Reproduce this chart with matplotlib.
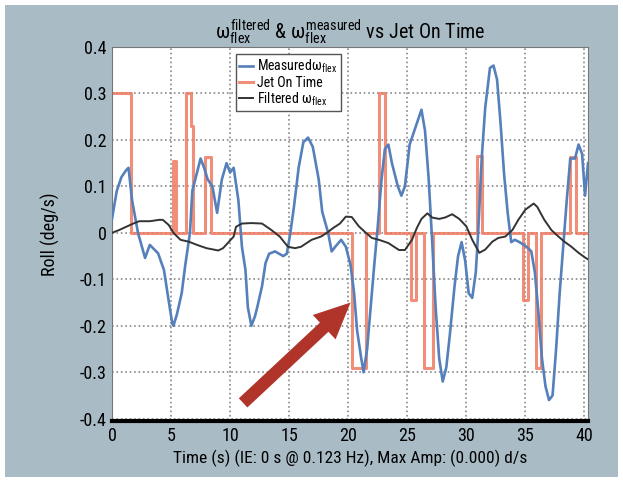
import numpy as np
import matplotlib
matplotlib.use("Agg")
import matplotlib.pyplot as plt
import matplotlib.patches as mpatches
from matplotlib import font_manager

names = {f.name for f in font_manager.fontManager.ttflist}
narrow = [n for n in ['Liberation Sans Narrow', 'Roboto Condensed', 'Open Sans Condensed'] if n in names]
main_font = (narrow + ['DejaVu Sans'])[0]
plt.rcParams['font.family'] = narrow + ['DejaVu Sans']
plt.rcParams['font.stretch'] = 'condensed'
plt.rcParams['mathtext.fontset'] = 'custom'
plt.rcParams['mathtext.rm'] = main_font
plt.rcParams['mathtext.it'] = main_font

# Measured omega_flex (blue)
t_meas = [0.0, 0.4, 0.8, 1.2, 1.4, 1.7, 2.2, 2.8, 3.2, 3.9, 4.4, 4.7, 5.1, 5.2, 5.5,
          5.9, 6.2, 6.6, 6.8, 7.1, 7.5, 7.8, 8.1, 8.5, 8.9, 9.3, 9.7, 10.0, 10.3,
          10.7, 11.0, 11.3, 11.5, 11.8, 12.1, 12.3, 12.7, 13.0, 13.3, 13.8, 14.5,
          14.8, 15.1, 15.4, 15.8, 16.2, 16.6, 17.0, 17.5, 17.8, 18.3, 18.6, 18.9,
          19.4, 19.8, 20.2, 20.5, 20.75, 21.1, 21.3, 21.6, 21.9, 22.2, 22.5, 22.8,
          23.1, 23.4, 23.7, 24.2, 24.5, 24.8, 25.2, 25.6, 26.2, 26.5, 26.8, 27.1,
          27.4, 27.7, 28.0, 28.3, 28.6, 29.0, 29.3, 29.6, 29.9, 30.2, 30.5, 30.8,
          31.0, 31.3, 31.6, 32.0, 32.3, 32.6, 32.9, 33.2, 33.5, 33.8, 34.1, 34.5,
          35.1, 35.5, 35.8, 36.1, 36.4, 36.7, 37.0, 37.3, 37.6, 37.9, 38.2, 38.5,
          38.8, 39.2, 39.5, 39.8, 40.05, 40.3]
v_meas = [0.03, 0.09, 0.12, 0.135, 0.14, 0.07, 0.0, -0.054, -0.026, -0.044, -0.08,
          -0.13, -0.195, -0.2, -0.175, -0.13, -0.07, 0.0, 0.09, 0.12, 0.16, 0.14,
          0.115, 0.1, 0.043, 0.115, 0.15, 0.13, 0.14, 0.07, -0.03, -0.08, -0.16,
          -0.2, -0.18, -0.16, -0.115, -0.065, -0.045, -0.04, -0.05, -0.045, 0.0,
          0.055, 0.14, 0.195, 0.205, 0.185, 0.115, 0.045, 0.0, -0.04, -0.03,
          -0.015, -0.03, -0.07, -0.13, -0.21, -0.27, -0.3, -0.25, -0.16, -0.07,
          0.014, 0.11, 0.18, 0.19, 0.15, 0.1, 0.08, 0.1, 0.19, 0.22, 0.265, 0.22,
          0.12, -0.015, -0.16, -0.27, -0.32, -0.29, -0.22, -0.115, -0.05, -0.02,
          -0.06, -0.13, -0.14, -0.085, 0.0, 0.16, 0.27, 0.355, 0.36, 0.33, 0.235,
          0.125, 0.043, -0.02, -0.015, -0.02, -0.03, -0.04, -0.085, -0.17, -0.27,
          -0.33, -0.36, -0.35, -0.25, -0.13, -0.03, 0.07, 0.16, 0.16, 0.19, 0.17,
          0.08, 0.15]

# Filtered omega_flex (dark)
t_filt = [0.0, 0.6, 1.2, 1.8, 2.3, 3.2, 4.0, 4.3, 4.8, 5.2, 5.8, 6.5, 7.2, 8.0,
          9.0, 9.4, 9.8, 10.3, 10.5, 11.0, 11.8, 12.7, 13.5, 14.2, 14.9, 15.5,
          16.0, 16.9, 17.7, 18.3, 18.7, 19.3, 19.8, 20.3, 20.9, 21.5, 22.0, 22.6,
          23.4, 24.3, 24.8, 25.4, 25.8, 26.2, 26.7, 27.1, 27.7, 28.2, 28.8, 29.4,
          30.0, 30.5, 31.1, 31.6, 32.2, 32.7, 33.3, 33.9, 34.4, 35.0, 35.7, 36.0,
          36.6, 37.2, 37.8, 38.3, 38.9, 39.5, 40.1, 40.3]
v_filt = [0.0, 0.006, 0.013, 0.02, 0.025, 0.025, 0.028, 0.028, 0.017, 0.0, -0.015,
          -0.019, -0.026, -0.033, -0.038, -0.033, -0.022, -0.008, 0.013, 0.02,
          0.021, 0.02, 0.006, -0.008, -0.03, -0.033, -0.03, -0.015, -0.008, 0.002,
          0.01, 0.02, 0.035, 0.034, 0.014, 0.0, -0.011, -0.015, -0.022, -0.037,
          -0.037, -0.015, 0.01, 0.03, 0.042, 0.033, 0.03, 0.033, 0.04, 0.03, 0.014,
          -0.015, -0.043, -0.036, -0.019, -0.011, -0.008, 0.006, 0.028, 0.05,
          0.063, 0.056, 0.028, 0.006, -0.008, -0.019, -0.03, -0.043, -0.054, -0.057]

# Jet On Time pulses: (start, end, level)
jet_start = [0.0, 5.15, 6.3, 6.7, 7.9, 20.3, 22.6, 25.3, 26.4, 30.9, 34.8, 35.9, 38.8]
jet_end = [1.65, 5.45, 6.7, 6.9, 8.35, 21.5, 23.1, 25.7, 27.2, 31.3, 35.2, 36.3, 39.3]
jet_level = [0.3, 0.155, 0.3, 0.23, 0.163, -0.29, 0.3, -0.145, -0.29, 0.165, -0.145, -0.29, 0.163]

# piecewise-constant signal, drawn with steps-post
jt, jv = [], []
for i, (s, e, lv) in enumerate(zip(jet_start, jet_end, jet_level)):
    if not jt or jt[-1] != s:
        jt.append(s)
        jv.append(lv)
    else:
        jv[-1] = lv
    nxt = jet_start[i + 1] if i + 1 < len(jet_start) else None
    jt.append(e)
    jv.append(lv if nxt == e else 0.0)
jt.append(40.3)
jv.append(0.0)

fig = plt.figure(figsize=(6.23, 4.82), dpi=100, facecolor='white')
bg = mpatches.Rectangle((5 / 623, 5 / 482), 613 / 623, 472 / 482,
                        transform=fig.transFigure, facecolor='#a9bcc6',
                        edgecolor='none', zorder=-10)
fig.patches.append(bg)

ax = fig.add_axes([112 / 623, 1 - 421 / 482, 476 / 623, 374 / 482])
ax.set_facecolor('white')

ax.plot(t_meas, v_meas, color='#5580bb', lw=1.9, label=r'Measured$\omega_{\rm flex}$', zorder=3)
ax.plot(jt, jv, color='#ef7a62', lw=2.2, alpha=0.85, drawstyle='steps-post',
        label='Jet On Time', zorder=2)
ax.plot(t_filt, v_filt, color='#333333', lw=1.4, label=r'Filtered $\omega_{\rm flex}$', zorder=4)

ax.set_xlim(0, 40.3)
ax.set_ylim(-0.405, 0.4)
ax.set_xticks(np.arange(0, 41, 5))
ax.set_yticks(np.arange(-0.4, 0.41, 0.1))
ax.set_yticklabels(['-0.4', '-0.3', '-0.2', '-0.1', '0', '0.1', '0.2', '0.3', '0.4'])
ax.grid(True, color='#888888', ls=':', lw=1.2)
ax.tick_params(labelsize=13, length=0, pad=4)
for sp in ['top', 'right', 'left']:
    ax.spines[sp].set_color('#777777')
ax.spines['bottom'].set_linewidth(3)
ax.spines['bottom'].set_color('black')

ax.set_xlabel('Time (s) (IE: 0 s @ 0.123 Hz), Max Amp: (0.000) d/s', fontsize=12.5, labelpad=4)
ax.set_ylabel('Roll (deg/s)', fontsize=13, labelpad=14)
ax.set_title(r'$\omega^{\rm filtered}_{\rm flex}$ & $\omega^{\rm measured}_{\rm flex}$ vs Jet On Time',
             fontsize=14.5, pad=6)

leg = ax.legend(loc='upper left', bbox_to_anchor=(0.245, 1.0), fontsize=10,
                handlelength=1.0, handletextpad=0.3, labelspacing=0.05,
                borderpad=0.25, fancybox=False, framealpha=1, edgecolor='#555555')

ax.annotate('', xy=(20.2, -0.15), xytext=(11.1, -0.366),
            arrowprops=dict(facecolor='#b0342a', edgecolor='none',
                            width=9, headwidth=24, headlength=26, shrink=0),
            zorder=6)

fig.savefig('out.png', dpi=100, facecolor=fig.get_facecolor())
